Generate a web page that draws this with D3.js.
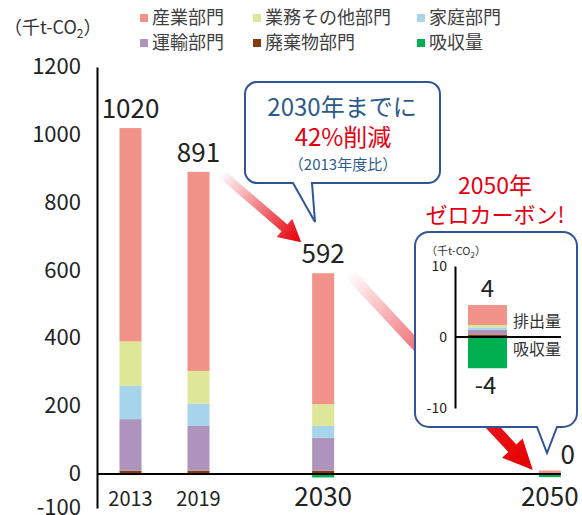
<!DOCTYPE html>
<html>
<head>
<meta charset="utf-8">
<script src="https://cdn.jsdelivr.net/npm/d3@7"></script>
<style>
  body { margin: 0; background: #fff; }
  svg { display: block; font-family: "Noto Sans CJK JP", "Noto Sans", sans-serif; }
</style>
</head>
<body>
<div id="chart"></div>
<script>
// 年度
const years = [2013, 2019, 2030, 2050];
// 部門別排出量 (千t-CO2)
const industry = [629, 587, 386, 2.8];
const business = [131, 96, 64, 0.35];
const household = [98, 66, 35, 0.35];
const transport = [152, 132, 97, 0.65];
const waste = [10, 10, 10, 0.35];
const absorption = [0, 0, -10, -4.4];
const totalLabels = ['1020', '891', '592', '0'];
const yTicks = [-100, 0, 200, 400, 600, 800, 1000, 1200];
const insetTicks = [-10, 0, 10];

const keys = ['industry', 'business', 'household', 'transport', 'waste', 'absorption'];
const names = ['産業部門', '業務その他部門', '家庭部門', '運輸部門', '廃棄物部門', '吸収量'];
const colors = {
  industry: '#f19388', business: '#dee698', household: '#a6d5eb',
  transport: '#ae93bd', waste: '#843c0c', absorption: '#00b050'
};

const rows = years.map((yr, i) => ({
  year: yr, industry: industry[i], business: business[i], household: household[i],
  transport: transport[i], waste: waste[i], absorption: absorption[i]
}));

const width = 582, height = 515;
const svg = d3.select('#chart').append('svg')
  .attr('width', width).attr('height', height);

const x = d3.scaleLinear().domain([2013, 2050]).range([130.5, 549.8]);
const y = d3.scaleLinear().domain([-100, 1200]).range([508, 67]);
const barW = 22;

const stack = d3.stack()
  .keys(['waste', 'transport', 'household', 'business', 'industry', 'absorption'])
  .offset(d3.stackOffsetDiverging);
const stacked = stack(rows);

function totalOf(i) {
  return industry[i] + business[i] + household[i] + transport[i] + waste[i];
}

// legend
const legend = svg.append('g');
names.forEach((n, i) => {
  const col = i % 3, row = Math.floor(i / 3);
  const lx = [140, 253, 417][col], ly = 18 + row * 25;
  legend.append('rect').attr('x', lx).attr('y', ly - 4).attr('width', 8).attr('height', 8)
    .attr('fill', colors[keys[i]]);
  legend.append('text').attr('x', lx + 12).attr('y', ly).attr('dy', '0.36em')
    .attr('font-size', 18).attr('fill', '#404040').text(n);
});

// unit
const unit = svg.append('text').attr('x', 4).attr('y', 34).attr('font-size', 18).attr('fill', '#333');
unit.append('tspan').text('（千t-CO');
unit.append('tspan').attr('font-size', 12).attr('dy', 4).text('2');
unit.append('tspan').attr('dy', -4).text('）');

// arrows (drawn beneath callouts)
const defs = svg.append('defs');
function arrow(id, p0, p1, bodyW, headW, headL, stopAt) {
  const g = defs.append('linearGradient').attr('id', id)
    .attr('gradientUnits', 'userSpaceOnUse')
    .attr('x1', p0[0]).attr('y1', p0[1]).attr('x2', p1[0]).attr('y2', p1[1]);
  g.append('stop').attr('offset', 0).attr('stop-color', '#e8202a').attr('stop-opacity', 0);
  g.append('stop').attr('offset', stopAt).attr('stop-color', '#e8202a').attr('stop-opacity', 1);
  g.append('stop').attr('offset', 1).attr('stop-color', '#e60000');
  const dx = p1[0] - p0[0], dy = p1[1] - p0[1], len = Math.hypot(dx, dy);
  const ux = dx / len, uy = dy / len, nx = -uy, ny = ux;
  const bx = p1[0] - ux * headL, by = p1[1] - uy * headL;
  const pts = [
    [p0[0] + nx * bodyW / 2, p0[1] + ny * bodyW / 2],
    [bx + nx * bodyW / 2, by + ny * bodyW / 2],
    [bx + nx * headW / 2, by + ny * headW / 2],
    p1,
    [bx - nx * headW / 2, by - ny * headW / 2],
    [bx - nx * bodyW / 2, by - ny * bodyW / 2],
    [p0[0] - nx * bodyW / 2, p0[1] - ny * bodyW / 2]
  ];
  svg.append('path').attr('d', d3.line()(pts) + 'Z').attr('fill', `url(#${id})`);
}
arrow('a1', [x(2019) + 22, y(891) + 1], [x(2030) - 22, y(592) - 31], 9, 24, 22, 0.85);
arrow('a2', [x(2030) + 26, y(592)], [x(2050) - 17, y(0) - 4], 11, 28, 30, 0.6);

// bars
const minH = 3;
const isTiny = d => d.data.year === 2050 && (d.key === 'industry' || d.key === 'absorption');
svg.append('g').selectAll('g')
  .data(stacked)
  .join('g')
    .attr('fill', d => colors[d.key])
  .selectAll('rect')
  .data(d => d.map(v => Object.assign(v, { key: d.key })))
  .join('rect')
    .attr('x', d => x(d.data.year) - barW / 2)
    .attr('width', barW)
    .attr('y', d => {
      const h = Math.abs(y(d[0]) - y(d[1]));
      if (isTiny(d) && d.key === 'industry') return y(d[0]) - Math.max(h, minH);
      return Math.min(y(d[0]), y(d[1]));
    })
    .attr('height', d => {
      const h = Math.abs(y(d[0]) - y(d[1]));
      return isTiny(d) ? Math.max(h, minH) : h;
    });

// y axis
const yAxis = svg.append('g').attr('transform', `translate(97,0)`)
  .call(d3.axisLeft(y).tickValues(yTicks).tickSize(0).tickPadding(16).tickFormat(d => String(d)));
yAxis.select('.domain').attr('stroke', '#000').attr('stroke-width', 2);
yAxis.selectAll('text').attr('font-size', 22).attr('fill', '#222').attr('dy', '0.3em')
  .attr('font-family', '"Noto Sans CJK JP", sans-serif');

// zero line
svg.append('line').attr('x1', 97).attr('x2', x(2050) + barW / 2)
  .attr('y1', y(0)).attr('y2', y(0)).attr('stroke', '#000').attr('stroke-width', 2);

// year labels
svg.append('g').selectAll('text')
  .data(years)
  .join('text')
    .attr('x', d => x(d))
    .attr('y', 506)
    .attr('text-anchor', 'middle')
    .attr('font-size', d => d >= 2030 ? 26 : 20)
    .attr('fill', '#222')
    .text(d => d);

// totals
svg.append('g').selectAll('text')
  .data(rows)
  .join('text')
    .attr('x', (d, i) => i === 3 ? x(d.year) + 18 : x(d.year))
    .attr('y', (d, i) => i === 3 ? y(0) - 10 : y(totalOf(i)) - 10)
    .attr('text-anchor', 'middle')
    .attr('font-size', 26)
    .attr('fill', '#222')
    .text((d, i) => totalLabels[i]);

// callouts
const navy = '#2f5597';
function callout(x0, y0, x1, y1, r, tail) {
  const p = d3.path();
  p.moveTo(x0 + r, y0);
  p.lineTo(x1 - r, y0); p.arcTo(x1, y0, x1, y0 + r, r);
  p.lineTo(x1, y1 - r); p.arcTo(x1, y1, x1 - r, y1, r);
  p.lineTo(tail[2][0], y1);
  p.lineTo(tail[1][0], tail[1][1]);
  p.lineTo(tail[0][0], y1);
  p.lineTo(x0 + r, y1); p.arcTo(x0, y1, x0, y1 - r, r);
  p.lineTo(x0, y0 + r); p.arcTo(x0, y0, x0 + r, y0, r);
  p.closePath();
  svg.append('path').attr('d', p.toString())
    .attr('fill', '#fff').attr('stroke', navy).attr('stroke-width', 2);
}
callout(245, 82, 440, 183, 12, [[293, 183], [315, 222], [312, 183]]);
svg.append('text').attr('x', 342).attr('y', 116).attr('text-anchor', 'middle')
  .attr('font-size', 24).attr('fill', '#2e5c8a').text('2030年までに');
svg.append('text').attr('x', 343).attr('y', 146).attr('text-anchor', 'middle')
  .attr('font-size', 24).attr('fill', '#e60012').text('42%削減');
svg.append('text').attr('x', 343).attr('y', 170).attr('text-anchor', 'middle')
  .attr('font-size', 15).attr('fill', '#2e5c8a').text('（2013年度比）');

// 2050 headline
svg.append('text').attr('x', 495).attr('y', 194).attr('text-anchor', 'middle')
  .attr('font-size', 23).attr('fill', '#e60012').text('2050年');
svg.append('text').attr('x', 495).attr('y', 223).attr('text-anchor', 'middle')
  .attr('font-size', 22).attr('fill', '#e60012').text('ゼロカーボン!');

// callout 2 with inset chart
callout(415, 232, 577, 427, 14, [[537, 427], [547, 453], [557, 427]]);

const yIn = d3.scaleLinear().domain([-10, 10]).range([408, 266]);
const xIn = d3.scaleBand().domain([2050]).range([455, 520]).paddingOuter(0.333);
const inStack = stack([rows[3]]);

const inUnit = svg.append('text').attr('x', 426).attr('y', 255).attr('font-size', 11).attr('fill', '#333');
inUnit.append('tspan').text('（千t-CO');
inUnit.append('tspan').attr('font-size', 8).attr('dy', 3).text('2');
inUnit.append('tspan').attr('dy', -3).text('）');

svg.append('g').selectAll('rect')
  .data(inStack)
  .join('rect')
    .attr('fill', d => colors[d.key])
    .attr('x', xIn(2050))
    .attr('width', xIn.bandwidth())
    .attr('y', d => Math.min(yIn(d[0][0]), yIn(d[0][1])))
    .attr('height', d => Math.abs(yIn(d[0][0]) - yIn(d[0][1])));

const inAxis = svg.append('g').attr('transform', 'translate(455,0)')
  .call(d3.axisLeft(yIn).tickValues(insetTicks).tickSize(0).tickPadding(8).tickFormat(d => String(d)));
inAxis.select('.domain').attr('stroke', '#000').attr('stroke-width', 2);
inAxis.selectAll('text').attr('font-size', 14).attr('fill', '#222')
  .attr('font-family', '"Noto Sans CJK JP", sans-serif');

svg.append('line').attr('x1', 455).attr('x2', 561)
  .attr('y1', yIn(0)).attr('y2', yIn(0)).attr('stroke', '#000').attr('stroke-width', 2);

const inTotal = totalOf(3), inAbs = absorption[3];
svg.append('text').attr('x', xIn(2050) + xIn.bandwidth() / 2).attr('y', yIn(inTotal) - 8)
  .attr('text-anchor', 'middle').attr('font-size', 24).attr('fill', '#222')
  .text(String(Math.floor(inTotal)));
svg.append('text').attr('x', xIn(2050) + xIn.bandwidth() / 2 - 2).attr('y', yIn(inAbs) + 26)
  .attr('text-anchor', 'middle').attr('font-size', 24).attr('fill', '#222')
  .text(String(Math.ceil(inAbs)));
svg.append('text').attr('x', 513).attr('y', yIn(inTotal / 2)).attr('dy', '0.36em')
  .attr('font-size', 16).attr('fill', '#333').text('排出量');
svg.append('text').attr('x', 513).attr('y', yIn(inAbs / 2) - 3).attr('dy', '0.36em')
  .attr('font-size', 16).attr('fill', '#333').text('吸収量');
</script>
</body>
</html>
